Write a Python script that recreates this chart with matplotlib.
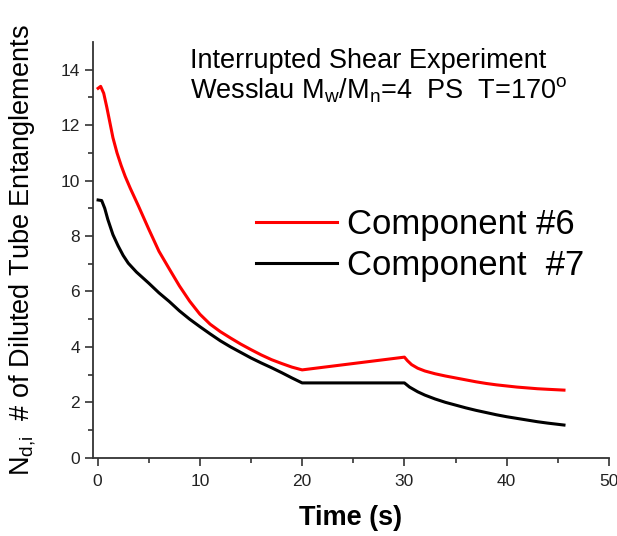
import matplotlib
matplotlib.use('Agg')
import matplotlib.pyplot as plt
import numpy as np

plt.rcParams['font.family'] = ['Liberation Sans', 'DejaVu Sans']
plt.rcParams['mathtext.default'] = 'regular'

# Component #6 (red)
t_c6 = [0.05, 0.3, 0.6, 0.9, 1.2, 1.5, 1.9, 2.3, 2.7, 3.2, 4.0, 5.0, 6.0, 7.0, 8.0, 9.0,
        10.0, 11.0, 12.0, 13.0, 14.0, 15.0, 16.0, 17.0, 18.0, 19.0, 20.0,
        30.0, 30.3, 30.7, 31.3, 32.0, 33.0, 34.0, 35.0, 36.0, 37.0, 38.0, 39.0, 40.0,
        41.0, 42.0, 43.0, 44.0, 45.6]
n_c6 = [13.33, 13.40, 13.15, 12.65, 12.1, 11.55, 11.0, 10.55, 10.15, 9.72, 9.08, 8.25, 7.45,
        6.82, 6.2, 5.65, 5.18, 4.82, 4.55, 4.32, 4.1, 3.9, 3.71, 3.54, 3.4, 3.27, 3.17,
        3.63, 3.5, 3.36, 3.23, 3.13, 3.03, 2.95, 2.88, 2.81, 2.74, 2.68, 2.63, 2.59,
        2.55, 2.52, 2.49, 2.47, 2.44]

# Component #7 (black)
t_c7 = [0.05, 0.4, 0.7, 1.0, 1.5, 2.0, 2.5, 3.0, 3.8, 5.0, 6.0, 7.0, 8.0, 9.0, 10.0,
        11.0, 12.0, 13.0, 14.0, 15.0, 16.0, 17.0, 18.0, 19.0, 20.0,
        30.0, 30.5, 31.3, 32.0, 33.0, 34.0, 35.0, 36.0, 37.0, 38.0, 39.0, 40.0,
        41.0, 42.0, 43.0, 44.0, 45.6]
n_c7 = [9.30, 9.28, 9.0, 8.6, 8.05, 7.65, 7.3, 7.02, 6.7, 6.3, 5.95, 5.64, 5.3, 5.0, 4.73,
        4.47, 4.22, 4.0, 3.8, 3.6, 3.42, 3.25, 3.07, 2.88, 2.7,
        2.7, 2.55, 2.38, 2.26, 2.12, 2.0, 1.9, 1.8, 1.71, 1.63, 1.55, 1.48,
        1.42, 1.36, 1.3, 1.25, 1.18]

fig = plt.figure(figsize=(6.17, 5.36), dpi=100)
ax = fig.add_axes([0.1507, 0.146, 0.8363, 0.7756])

ax.plot(t_c6, n_c6, color='#ff0000', lw=2.2, label='Component #6')
ax.plot(t_c7, n_c7, color='black', lw=2.2, label='Component  #7')

ax.set_xlim(-0.45, 50)
ax.set_ylim(0, 15)
ax.set_xticks(np.arange(0, 51, 10))
ax.set_xticks(np.arange(5, 50, 10), minor=True)
ax.set_yticks(np.arange(0, 15, 2))
ax.set_yticks(np.arange(1, 15, 2), minor=True)

for side in ['top', 'right']:
    ax.spines[side].set_visible(False)
for side in ['left', 'bottom']:
    ax.spines[side].set_color('#333333')
    ax.spines[side].set_linewidth(1.3)

ax.tick_params(which='major', direction='out', length=6, width=1.2, color='#333333',
               labelsize=12.5, labelcolor='#222222')
ax.tick_params(axis='x', which='major', pad=6)
ax.tick_params(which='minor', direction='out', length=3.5, width=1.2, color='#333333')

ax.set_xlabel('Time (s)', fontsize=19.5, fontweight='bold', labelpad=11)
ax.set_ylabel('N$_{d{,}i}$  # of Diluted Tube Entanglements', fontsize=19.5, labelpad=16)

ax.text(0.188, 0.9375, 'Interrupted Shear Experiment', transform=ax.transAxes,
        fontsize=19.5, va='baseline')
ax.text(0.188, 0.865, 'Wesslau M$_w$/M$_n$=4  PS  T=170$^o$', transform=ax.transAxes,
        fontsize=19.5, va='baseline')

ax.legend(loc='center left', bbox_to_anchor=(0.316, 0.512), frameon=False, fontsize=25,
          handlelength=2.33, handletextpad=0.3, labelspacing=0.24, borderpad=0,
          borderaxespad=0)

fig.savefig('out.png', dpi=100)
